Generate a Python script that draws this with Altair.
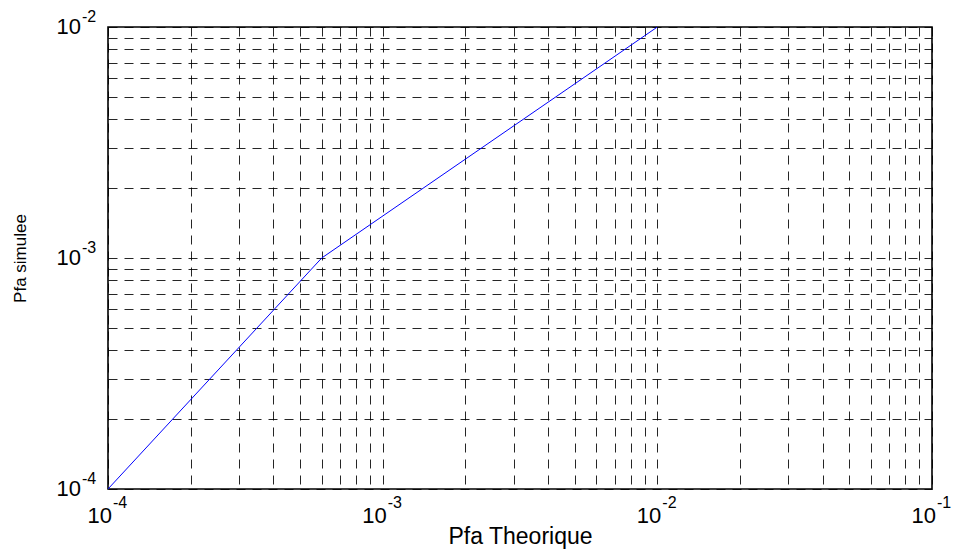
import altair as alt
import pandas as pd

# Data
line_x = [1e-4, 6e-4, 1e-2]
line_y = [1e-4, 1e-3, 1e-2]

x_label_exps = [-4, -3, -2, -1]
y_label_exps = [-4, -3, -2]

x_grid = [m * 10.0 ** e for e in (-4, -3, -2) for m in range(1, 10)] + [1e-1]
y_grid = [m * 10.0 ** e for e in (-4, -3) for m in range(1, 10)] + [1e-2]

FONT = "Liberation Sans"
W, H = 824, 462

line_df = pd.DataFrame({"x": line_x, "y": line_y})
xl_df = pd.DataFrame({"v": [10.0 ** e for e in x_label_exps],
                      "e": [str(e) for e in x_label_exps]})
yl_df = pd.DataFrame({"v": [10.0 ** e for e in y_label_exps],
                      "e": [str(e) for e in y_label_exps]})

xscale = alt.Scale(type="log", domain=[1e-4, 1e-1], nice=False)
yscale = alt.Scale(type="log", domain=[1e-4, 1e-2], nice=False)

grid_common = dict(grid=True, gridDash=[9, 7], gridColor="#000000",
                   gridOpacity=0.85, gridWidth=1, labels=False, ticks=False,
                   domain=False, titleFont=FONT, titleColor="#000000",
                   titleFontWeight="normal")

xaxis = alt.Axis(values=x_grid, title="Pfa Theorique", titleFontSize=23,
                 titleBaseline="alphabetic", titleY=54, **grid_common)
yaxis = alt.Axis(values=y_grid, title="Pfa simulee", titleFontSize=17,
                 titleBaseline="alphabetic", titleX=-83, titleAngle=-90,
                 **grid_common)

line = alt.Chart(line_df).mark_line(color="#0000ff", strokeWidth=1, clip=True).encode(
    x=alt.X("x:Q", scale=xscale, axis=xaxis),
    y=alt.Y("y:Q", scale=yscale, axis=yaxis),
)

# x tick labels: "10" with superscript exponent
x_ten = alt.Chart(xl_df).mark_text(text="10", font=FONT, fontSize=22, align="right",
                                   baseline="alphabetic", dx=4, color="#000000").encode(
    x=alt.X("v:Q", scale=xscale), y=alt.value(H + 34))
x_exp = alt.Chart(xl_df).mark_text(font=FONT, fontSize=16, align="left",
                                   baseline="alphabetic", dx=5, color="#000000").encode(
    x=alt.X("v:Q", scale=xscale), y=alt.value(H + 19), text="e:N")

y_ten = alt.Chart(yl_df).mark_text(text="10", font=FONT, fontSize=22, align="right",
                                   baseline="alphabetic", dy=7, color="#000000").encode(
    y=alt.Y("v:Q", scale=yscale), x=alt.value(-27))
y_exp = alt.Chart(yl_df).mark_text(font=FONT, fontSize=16, align="left",
                                   baseline="alphabetic", dy=-5, color="#000000").encode(
    y=alt.Y("v:Q", scale=yscale), x=alt.value(-26), text="e:N")

chart = alt.layer(line, x_ten, x_exp, y_ten, y_exp).properties(
    width=W, height=H,
    autosize=alt.AutoSizeParams(type="none"),
    padding={"left": 108, "top": 27, "right": 28, "bottom": 65},
    background="#ffffff",
).configure_view(stroke="#000000", strokeWidth=1.6)

chart.save("out.html", embed_options={"renderer": "svg", "actions": False})
